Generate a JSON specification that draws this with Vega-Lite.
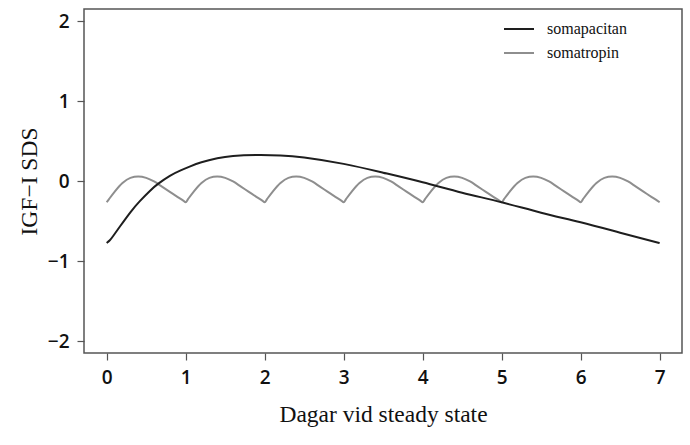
{
  "$schema": "https://vega.github.io/schema/vega-lite/v6.json",
  "width": 598,
  "height": 344,
  "autosize": {"type": "none"},
  "padding": {"left": 84, "top": 9, "right": 8, "bottom": 92},
  "background": "white",
  "config": {
    "view": {"stroke": "#555555", "strokeWidth": 1.5},
    "axis": {
      "domain": false,
      "grid": false,
      "tickColor": "#555555",
      "tickWidth": 1.2,
      "tickSize": 7,
      "labelFont": "Open Sans",
      "labelFontSize": 19,
      "labelFontWeight": 600,
      "labelColor": "#111111",
      "titleFont": "Liberation Serif",
      "titleFontSize": 23.5,
      "titleFontWeight": "normal",
      "titleColor": "#111111"
    }
  },
  "datasets": {
    "curves": [
      {"day": 0, "sds": -0.77, "drug": "somapacitan"},
      {"day": 0.04, "sds": -0.735, "drug": "somapacitan"},
      {"day": 0.08, "sds": -0.685, "drug": "somapacitan"},
      {"day": 0.17, "sds": -0.56, "drug": "somapacitan"},
      {"day": 0.3, "sds": -0.385, "drug": "somapacitan"},
      {"day": 0.42, "sds": -0.245, "drug": "somapacitan"},
      {"day": 0.55, "sds": -0.115, "drug": "somapacitan"},
      {"day": 0.65, "sds": -0.03, "drug": "somapacitan"},
      {"day": 0.8, "sds": 0.07, "drug": "somapacitan"},
      {"day": 0.93, "sds": 0.135, "drug": "somapacitan"},
      {"day": 1.05, "sds": 0.185, "drug": "somapacitan"},
      {"day": 1.2, "sds": 0.24, "drug": "somapacitan"},
      {"day": 1.4, "sds": 0.29, "drug": "somapacitan"},
      {"day": 1.6, "sds": 0.318, "drug": "somapacitan"},
      {"day": 1.9, "sds": 0.33, "drug": "somapacitan"},
      {"day": 2.2, "sds": 0.325, "drug": "somapacitan"},
      {"day": 2.5, "sds": 0.3, "drug": "somapacitan"},
      {"day": 3.0, "sds": 0.22, "drug": "somapacitan"},
      {"day": 3.5, "sds": 0.11, "drug": "somapacitan"},
      {"day": 4.0, "sds": -0.01, "drug": "somapacitan"},
      {"day": 4.5, "sds": -0.14, "drug": "somapacitan"},
      {"day": 5.0, "sds": -0.26, "drug": "somapacitan"},
      {"day": 5.5, "sds": -0.39, "drug": "somapacitan"},
      {"day": 6.0, "sds": -0.51, "drug": "somapacitan"},
      {"day": 6.5, "sds": -0.64, "drug": "somapacitan"},
      {"day": 7.0, "sds": -0.77, "drug": "somapacitan"},

      {"day": 0, "sds": -0.26, "drug": "somatropin"},
      {"day": 0.03, "sds": -0.22, "drug": "somatropin"},
      {"day": 0.1, "sds": -0.13, "drug": "somatropin"},
      {"day": 0.2, "sds": -0.02, "drug": "somatropin"},
      {"day": 0.3, "sds": 0.045, "drug": "somatropin"},
      {"day": 0.4, "sds": 0.062, "drug": "somatropin"},
      {"day": 0.5, "sds": 0.045, "drug": "somatropin"},
      {"day": 0.6, "sds": 0.0, "drug": "somatropin"},
      {"day": 0.7, "sds": -0.065, "drug": "somatropin"},
      {"day": 0.8, "sds": -0.13, "drug": "somatropin"},
      {"day": 0.9, "sds": -0.195, "drug": "somatropin"},
      {"day": 0.97, "sds": -0.24, "drug": "somatropin"},
      {"day": 1, "sds": -0.26, "drug": "somatropin"},
      {"day": 1.03, "sds": -0.22, "drug": "somatropin"},
      {"day": 1.1, "sds": -0.13, "drug": "somatropin"},
      {"day": 1.2, "sds": -0.02, "drug": "somatropin"},
      {"day": 1.3, "sds": 0.045, "drug": "somatropin"},
      {"day": 1.4, "sds": 0.062, "drug": "somatropin"},
      {"day": 1.5, "sds": 0.045, "drug": "somatropin"},
      {"day": 1.6, "sds": 0.0, "drug": "somatropin"},
      {"day": 1.7, "sds": -0.065, "drug": "somatropin"},
      {"day": 1.8, "sds": -0.13, "drug": "somatropin"},
      {"day": 1.9, "sds": -0.195, "drug": "somatropin"},
      {"day": 1.97, "sds": -0.24, "drug": "somatropin"},
      {"day": 2, "sds": -0.26, "drug": "somatropin"},
      {"day": 2.03, "sds": -0.22, "drug": "somatropin"},
      {"day": 2.1, "sds": -0.13, "drug": "somatropin"},
      {"day": 2.2, "sds": -0.02, "drug": "somatropin"},
      {"day": 2.3, "sds": 0.045, "drug": "somatropin"},
      {"day": 2.4, "sds": 0.062, "drug": "somatropin"},
      {"day": 2.5, "sds": 0.045, "drug": "somatropin"},
      {"day": 2.6, "sds": 0.0, "drug": "somatropin"},
      {"day": 2.7, "sds": -0.065, "drug": "somatropin"},
      {"day": 2.8, "sds": -0.13, "drug": "somatropin"},
      {"day": 2.9, "sds": -0.195, "drug": "somatropin"},
      {"day": 2.97, "sds": -0.24, "drug": "somatropin"},
      {"day": 3, "sds": -0.26, "drug": "somatropin"},
      {"day": 3.03, "sds": -0.22, "drug": "somatropin"},
      {"day": 3.1, "sds": -0.13, "drug": "somatropin"},
      {"day": 3.2, "sds": -0.02, "drug": "somatropin"},
      {"day": 3.3, "sds": 0.045, "drug": "somatropin"},
      {"day": 3.4, "sds": 0.062, "drug": "somatropin"},
      {"day": 3.5, "sds": 0.045, "drug": "somatropin"},
      {"day": 3.6, "sds": 0.0, "drug": "somatropin"},
      {"day": 3.7, "sds": -0.065, "drug": "somatropin"},
      {"day": 3.8, "sds": -0.13, "drug": "somatropin"},
      {"day": 3.9, "sds": -0.195, "drug": "somatropin"},
      {"day": 3.97, "sds": -0.24, "drug": "somatropin"},
      {"day": 4, "sds": -0.26, "drug": "somatropin"},
      {"day": 4.03, "sds": -0.22, "drug": "somatropin"},
      {"day": 4.1, "sds": -0.13, "drug": "somatropin"},
      {"day": 4.2, "sds": -0.02, "drug": "somatropin"},
      {"day": 4.3, "sds": 0.045, "drug": "somatropin"},
      {"day": 4.4, "sds": 0.062, "drug": "somatropin"},
      {"day": 4.5, "sds": 0.045, "drug": "somatropin"},
      {"day": 4.6, "sds": 0.0, "drug": "somatropin"},
      {"day": 4.7, "sds": -0.065, "drug": "somatropin"},
      {"day": 4.8, "sds": -0.13, "drug": "somatropin"},
      {"day": 4.9, "sds": -0.195, "drug": "somatropin"},
      {"day": 4.97, "sds": -0.24, "drug": "somatropin"},
      {"day": 5, "sds": -0.26, "drug": "somatropin"},
      {"day": 5.03, "sds": -0.22, "drug": "somatropin"},
      {"day": 5.1, "sds": -0.13, "drug": "somatropin"},
      {"day": 5.2, "sds": -0.02, "drug": "somatropin"},
      {"day": 5.3, "sds": 0.045, "drug": "somatropin"},
      {"day": 5.4, "sds": 0.062, "drug": "somatropin"},
      {"day": 5.5, "sds": 0.045, "drug": "somatropin"},
      {"day": 5.6, "sds": 0.0, "drug": "somatropin"},
      {"day": 5.7, "sds": -0.065, "drug": "somatropin"},
      {"day": 5.8, "sds": -0.13, "drug": "somatropin"},
      {"day": 5.9, "sds": -0.195, "drug": "somatropin"},
      {"day": 5.97, "sds": -0.24, "drug": "somatropin"},
      {"day": 6, "sds": -0.26, "drug": "somatropin"},
      {"day": 6.03, "sds": -0.22, "drug": "somatropin"},
      {"day": 6.1, "sds": -0.13, "drug": "somatropin"},
      {"day": 6.2, "sds": -0.02, "drug": "somatropin"},
      {"day": 6.3, "sds": 0.045, "drug": "somatropin"},
      {"day": 6.4, "sds": 0.062, "drug": "somatropin"},
      {"day": 6.5, "sds": 0.045, "drug": "somatropin"},
      {"day": 6.6, "sds": 0.0, "drug": "somatropin"},
      {"day": 6.7, "sds": -0.065, "drug": "somatropin"},
      {"day": 6.8, "sds": -0.13, "drug": "somatropin"},
      {"day": 6.9, "sds": -0.195, "drug": "somatropin"},
      {"day": 6.97, "sds": -0.24, "drug": "somatropin"},
      {"day": 7, "sds": -0.26, "drug": "somatropin"}
    ]
  },
  "data": {"name": "curves"},
  "encoding": {
    "x": {
      "field": "day",
      "type": "quantitative",
      "scale": {"domain": [-0.287, 7.283], "nice": false, "zero": false},
      "axis": {"values": [0, 1, 2, 3, 4, 5, 6, 7], "title": "Dagar vid steady state", "labelPadding": 8, "titlePadding": 15}
    },
    "y": {
      "field": "sds",
      "type": "quantitative",
      "scale": {"domain": [-2.144, 2.156], "nice": false, "zero": false},
      "axis": {"values": [-2, -1, 0, 1, 2], "title": "IGF−I SDS", "labelPadding": 8, "titlePadding": 6}
    },
    "color": {
      "field": "drug",
      "type": "nominal",
      "scale": {"domain": ["somapacitan", "somatropin"], "range": ["#1e1e1e", "#8e8e8e"]},
      "legend": {
        "title": null,
        "orient": "none",
        "legendX": 419,
        "legendY": 4,
        "symbolType": "stroke",
        "symbolSize": 900,
        "symbolStrokeWidth": 2,
        "labelFont": "Liberation Serif",
        "labelFontSize": 16,
        "labelColor": "#111111",
        "labelOffset": 12,
        "rowPadding": -6,
        "padding": 0
      }
    }
  },
  "layer": [
    {
      "transform": [{"filter": "datum.drug === 'somatropin'"}],
      "mark": {"type": "line", "interpolate": "monotone", "strokeWidth": 2, "clip": true}
    },
    {
      "transform": [{"filter": "datum.drug === 'somapacitan'"}],
      "mark": {"type": "line", "interpolate": "natural", "strokeWidth": 2, "clip": true}
    }
  ]
}
